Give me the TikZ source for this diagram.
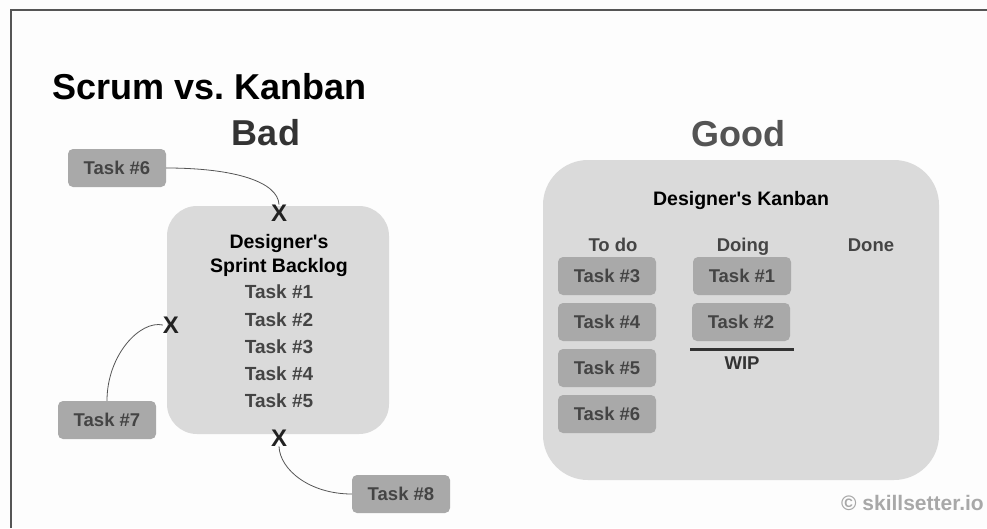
\documentclass[tikz,border=0pt]{standalone}
\usepackage{fontspec}
\setmainfont{Liberation Sans}
\frenchspacing
\definecolor{bg}{HTML}{FDFDFD}
\definecolor{frame}{HTML}{555555}
\definecolor{panel}{HTML}{DADADA}
\definecolor{card}{HTML}{A9A9A9}
\definecolor{cardtext}{HTML}{444444}
\definecolor{xcol}{HTML}{222222}
\definecolor{wm}{HTML}{A8A8A8}
\begin{document}
\begin{tikzpicture}[x=1pt,y=-1pt,
  task/.style={fill=card,rounded corners=5pt,minimum width=98pt,minimum height=38pt,inner sep=0pt,
    font=\fontsize{18.5}{20}\selectfont\bfseries,text=cardtext},
  panelbox/.style={fill=panel,draw=none},
  xmark/.style={inner sep=0pt,font=\fontsize{24}{24}\selectfont\bfseries,text=xcol},
  listtxt/.style={font=\fontsize{19}{20}\selectfont\bfseries,text=cardtext},
  head/.style={font=\fontsize{19.5}{24}\selectfont\bfseries,text=black,inner sep=0pt},
  colhead/.style={font=\fontsize{18.5}{20}\selectfont\bfseries,text=cardtext},
  link/.style={draw=frame,line width=0.8pt}]
\useasboundingbox (0,0) rectangle (987,528);
\fill[bg] (0,0) rectangle (987,528);
% frame
\draw[frame,line width=2pt] (11,528) -- (11,10) -- (987,10);
% titles
\node[anchor=base west,inner sep=0pt,font=\fontsize{36}{40}\selectfont\bfseries] (title) at (52,99) {Scrum vs.\ Kanban};
\node[anchor=base,inner sep=0pt,font=\fontsize{36}{40}\selectfont\bfseries,text=black!80] (bad) at (266,145) {Bad};
\node[anchor=base,inner sep=0pt,font=\fontsize{36}{40}\selectfont\bfseries,text=black!67] (good) at (738,146) {Good};
% Bad side
\path[panelbox,rounded corners=30pt] (167,206) rectangle (389,434);
\node[head,anchor=base] (dsb1) at (279,248) {Designer\textquotesingle s};
\node[head,anchor=base] (dsb2) at (279,272) {Sprint Backlog};
\node[listtxt,anchor=base] (b1) at (279,298) {Task \#1};
\node[listtxt,anchor=base] (b2) at (279,326) {Task \#2};
\node[listtxt,anchor=base] (b3) at (279,353) {Task \#3};
\node[listtxt,anchor=base] (b4) at (279,380) {Task \#4};
\node[listtxt,anchor=base] (b5) at (279,407) {Task \#5};
\node[xmark] (xtop) at (279,213) {X};
\node[xmark] (xleft) at (171,325) {X};
\node[xmark] (xbot) at (279,438) {X};
\node[task] (t6) at (117,168) {Task \#6};
\node[task] (t7) at (107,420) {Task \#7};
\node[task] (t8) at (401,494) {Task \#8};
\draw[link] (t6.east) .. controls (235,168) and (278,182) .. (xtop.north);
\draw[link] (t7.north) .. controls (107,355) and (140,320) .. (xleft.west);
\draw[link] (t8.west) .. controls (310,494) and (280,470) .. (xbot.south);
% Good side
\path[panelbox,rounded corners=45pt] (543,160) rectangle (939,480);
\node[head,anchor=base] (dk) at (741,205) {Designer\textquotesingle s Kanban};
\node[colhead,anchor=base] (todo) at (613,251) {To do};
\node[colhead,anchor=base] (doing) at (743,251) {Doing};
\node[colhead,anchor=base] (done) at (871,251) {Done};
\node[task] (k3) at (607,276) {Task \#3};
\node[task] (k4) at (607,322) {Task \#4};
\node[task] (k5) at (607,368) {Task \#5};
\node[task] (k6) at (607,414) {Task \#6};
\node[task] (k1) at (742,276) {Task \#1};
\node[task] (k2) at (741,322) {Task \#2};
\coordinate (wipl) at (690,349);
\coordinate (wipr) at (794,349);
\draw[black!80,line width=3pt] (wipl) -- (wipr);
\node[colhead,anchor=base,text=black!80] (wip) at (742,369) {WIP};
% watermark
\node[anchor=base east,inner sep=0pt,font=\fontsize{21}{22}\selectfont\bfseries,text=wm] (wmk) at (984,510) {© skillsetter.io};
\end{tikzpicture}
\end{document}
